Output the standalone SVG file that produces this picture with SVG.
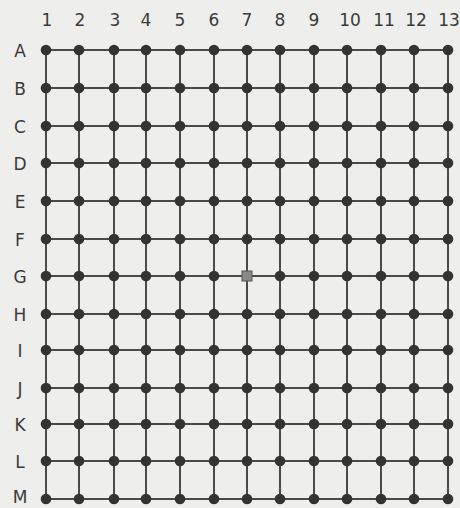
<svg xmlns="http://www.w3.org/2000/svg" width="460" height="508" viewBox="0 0 460 508">
<style>
.bg{fill:#eeeeec}
.ln{stroke:#4a4a4a;stroke-width:2;fill:none}
.dot{fill:#333333}
.lbl{font-family:"DejaVu Sans",Verdana,sans-serif;font-size:17px;fill:#3a3a3a;text-anchor:middle}
.sq{fill:#8a8a8a;stroke:#555;stroke-width:1}
</style>
<defs>
<circle id="d" r="5.3" class="dot"/>
</defs>
<rect class="bg" x="0" y="0" width="460" height="508"/>
<g id="labels">
<text class="lbl" x="47" y="26">1</text>
<text class="lbl" x="80" y="26">2</text>
<text class="lbl" x="115" y="26">3</text>
<text class="lbl" x="146" y="26">4</text>
<text class="lbl" x="180" y="26">5</text>
<text class="lbl" x="214" y="26">6</text>
<text class="lbl" x="247" y="26">7</text>
<text class="lbl" x="280" y="26">8</text>
<text class="lbl" x="314" y="26">9</text>
<text class="lbl" x="350" y="26">10</text>
<text class="lbl" x="384" y="26">11</text>
<text class="lbl" x="416" y="26">12</text>
<text class="lbl" x="449" y="26">13</text>
<text class="lbl" x="20" y="57">A</text>
<text class="lbl" x="20" y="95">B</text>
<text class="lbl" x="20" y="133">C</text>
<text class="lbl" x="20" y="170">D</text>
<text class="lbl" x="20" y="208">E</text>
<text class="lbl" x="20" y="246">F</text>
<text class="lbl" x="20" y="283">G</text>
<text class="lbl" x="20" y="321">H</text>
<text class="lbl" x="20" y="357">I</text>
<text class="lbl" x="20" y="395">J</text>
<text class="lbl" x="20" y="431">K</text>
<text class="lbl" x="20" y="468">L</text>
<text class="lbl" x="20" y="503">M</text>
</g>
<g id="connectors" class="ln">
<path d="M46 50H448M46 88H448M46 126H448M46 163H448M46 201H448M46 239H448M46 276H448M46 314H448M46 350H448M46 388H448M46 424H448M46 461H448M46 499H448"/>
<path d="M46 50V499M79 50V499M114 50V499M146 50V499M180 50V499M214 50V499M247 50V499M280 50V499M314 50V499M347 50V499M381 50V499M414 50V499M448 50V499"/>
</g>
<g id="nodes">
<g id="row-A"><use href="#d" x="46" y="50"/><use href="#d" x="79" y="50"/><use href="#d" x="114" y="50"/><use href="#d" x="146" y="50"/><use href="#d" x="180" y="50"/><use href="#d" x="214" y="50"/><use href="#d" x="247" y="50"/><use href="#d" x="280" y="50"/><use href="#d" x="314" y="50"/><use href="#d" x="347" y="50"/><use href="#d" x="381" y="50"/><use href="#d" x="414" y="50"/><use href="#d" x="448" y="50"/></g>
<g id="row-B"><use href="#d" x="46" y="88"/><use href="#d" x="79" y="88"/><use href="#d" x="114" y="88"/><use href="#d" x="146" y="88"/><use href="#d" x="180" y="88"/><use href="#d" x="214" y="88"/><use href="#d" x="247" y="88"/><use href="#d" x="280" y="88"/><use href="#d" x="314" y="88"/><use href="#d" x="347" y="88"/><use href="#d" x="381" y="88"/><use href="#d" x="414" y="88"/><use href="#d" x="448" y="88"/></g>
<g id="row-C"><use href="#d" x="46" y="126"/><use href="#d" x="79" y="126"/><use href="#d" x="114" y="126"/><use href="#d" x="146" y="126"/><use href="#d" x="180" y="126"/><use href="#d" x="214" y="126"/><use href="#d" x="247" y="126"/><use href="#d" x="280" y="126"/><use href="#d" x="314" y="126"/><use href="#d" x="347" y="126"/><use href="#d" x="381" y="126"/><use href="#d" x="414" y="126"/><use href="#d" x="448" y="126"/></g>
<g id="row-D"><use href="#d" x="46" y="163"/><use href="#d" x="79" y="163"/><use href="#d" x="114" y="163"/><use href="#d" x="146" y="163"/><use href="#d" x="180" y="163"/><use href="#d" x="214" y="163"/><use href="#d" x="247" y="163"/><use href="#d" x="280" y="163"/><use href="#d" x="314" y="163"/><use href="#d" x="347" y="163"/><use href="#d" x="381" y="163"/><use href="#d" x="414" y="163"/><use href="#d" x="448" y="163"/></g>
<g id="row-E"><use href="#d" x="46" y="201"/><use href="#d" x="79" y="201"/><use href="#d" x="114" y="201"/><use href="#d" x="146" y="201"/><use href="#d" x="180" y="201"/><use href="#d" x="214" y="201"/><use href="#d" x="247" y="201"/><use href="#d" x="280" y="201"/><use href="#d" x="314" y="201"/><use href="#d" x="347" y="201"/><use href="#d" x="381" y="201"/><use href="#d" x="414" y="201"/><use href="#d" x="448" y="201"/></g>
<g id="row-F"><use href="#d" x="46" y="239"/><use href="#d" x="79" y="239"/><use href="#d" x="114" y="239"/><use href="#d" x="146" y="239"/><use href="#d" x="180" y="239"/><use href="#d" x="214" y="239"/><use href="#d" x="247" y="239"/><use href="#d" x="280" y="239"/><use href="#d" x="314" y="239"/><use href="#d" x="347" y="239"/><use href="#d" x="381" y="239"/><use href="#d" x="414" y="239"/><use href="#d" x="448" y="239"/></g>
<g id="row-G"><use href="#d" x="46" y="276"/><use href="#d" x="79" y="276"/><use href="#d" x="114" y="276"/><use href="#d" x="146" y="276"/><use href="#d" x="180" y="276"/><use href="#d" x="214" y="276"/><rect id="G7" class="sq" x="242" y="271" width="10" height="10"/><use href="#d" x="280" y="276"/><use href="#d" x="314" y="276"/><use href="#d" x="347" y="276"/><use href="#d" x="381" y="276"/><use href="#d" x="414" y="276"/><use href="#d" x="448" y="276"/></g>
<g id="row-H"><use href="#d" x="46" y="314"/><use href="#d" x="79" y="314"/><use href="#d" x="114" y="314"/><use href="#d" x="146" y="314"/><use href="#d" x="180" y="314"/><use href="#d" x="214" y="314"/><use href="#d" x="247" y="314"/><use href="#d" x="280" y="314"/><use href="#d" x="314" y="314"/><use href="#d" x="347" y="314"/><use href="#d" x="381" y="314"/><use href="#d" x="414" y="314"/><use href="#d" x="448" y="314"/></g>
<g id="row-I"><use href="#d" x="46" y="350"/><use href="#d" x="79" y="350"/><use href="#d" x="114" y="350"/><use href="#d" x="146" y="350"/><use href="#d" x="180" y="350"/><use href="#d" x="214" y="350"/><use href="#d" x="247" y="350"/><use href="#d" x="280" y="350"/><use href="#d" x="314" y="350"/><use href="#d" x="347" y="350"/><use href="#d" x="381" y="350"/><use href="#d" x="414" y="350"/><use href="#d" x="448" y="350"/></g>
<g id="row-J"><use href="#d" x="46" y="388"/><use href="#d" x="79" y="388"/><use href="#d" x="114" y="388"/><use href="#d" x="146" y="388"/><use href="#d" x="180" y="388"/><use href="#d" x="214" y="388"/><use href="#d" x="247" y="388"/><use href="#d" x="280" y="388"/><use href="#d" x="314" y="388"/><use href="#d" x="347" y="388"/><use href="#d" x="381" y="388"/><use href="#d" x="414" y="388"/><use href="#d" x="448" y="388"/></g>
<g id="row-K"><use href="#d" x="46" y="424"/><use href="#d" x="79" y="424"/><use href="#d" x="114" y="424"/><use href="#d" x="146" y="424"/><use href="#d" x="180" y="424"/><use href="#d" x="214" y="424"/><use href="#d" x="247" y="424"/><use href="#d" x="280" y="424"/><use href="#d" x="314" y="424"/><use href="#d" x="347" y="424"/><use href="#d" x="381" y="424"/><use href="#d" x="414" y="424"/><use href="#d" x="448" y="424"/></g>
<g id="row-L"><use href="#d" x="46" y="461"/><use href="#d" x="79" y="461"/><use href="#d" x="114" y="461"/><use href="#d" x="146" y="461"/><use href="#d" x="180" y="461"/><use href="#d" x="214" y="461"/><use href="#d" x="247" y="461"/><use href="#d" x="280" y="461"/><use href="#d" x="314" y="461"/><use href="#d" x="347" y="461"/><use href="#d" x="381" y="461"/><use href="#d" x="414" y="461"/><use href="#d" x="448" y="461"/></g>
<g id="row-M"><use href="#d" x="46" y="499"/><use href="#d" x="79" y="499"/><use href="#d" x="114" y="499"/><use href="#d" x="146" y="499"/><use href="#d" x="180" y="499"/><use href="#d" x="214" y="499"/><use href="#d" x="247" y="499"/><use href="#d" x="280" y="499"/><use href="#d" x="314" y="499"/><use href="#d" x="347" y="499"/><use href="#d" x="381" y="499"/><use href="#d" x="414" y="499"/><use href="#d" x="448" y="499"/></g>
</g>
</svg>
